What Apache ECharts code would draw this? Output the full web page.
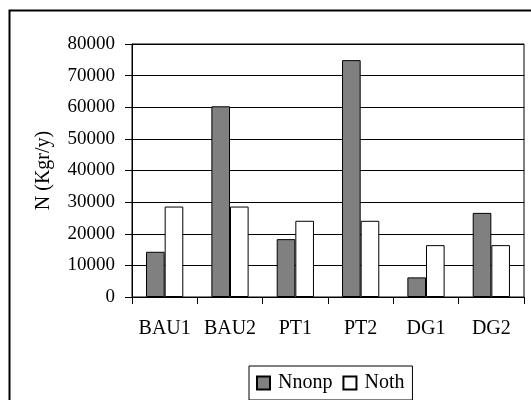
<!DOCTYPE html>
<html>
<head>
<meta charset="utf-8">
<script src="https://cdn.jsdelivr.net/npm/echarts@6/dist/echarts.min.js"></script>
<style>
  html, body { margin: 0; padding: 0; background: #fff; }
  #chart { width: 531px; height: 400px; }
</style>
</head>
<body>
<div id="chart"></div>
<script>
// Scenarios on the category axis
const scenarios = ['BAU1', 'BAU2', 'PT1', 'PT2', 'DG1', 'DG2'];
// Nitrogen loads, Kgr per year
const nnonp = [14300, 60300, 18300, 74900, 6200, 26600];
const noth = [28600, 28600, 24100, 24100, 16400, 16400];
// Value axis range
const yMin = 0;
const yMax = 80000;
const yStep = 10000;

const serif = '"Liberation Serif", "Times New Roman", serif';

const chart = echarts.init(document.getElementById('chart'), null, { renderer: 'canvas' });

chart.setOption({
  animation: false,
  backgroundColor: '#fff',
  textStyle: { fontFamily: serif, color: '#000' },
  graphic: [{
    type: 'rect',
    shape: { x: 9.5, y: 10.5, width: 540, height: 420 },
    style: { fill: null, stroke: '#000', lineWidth: 2 },
    silent: true
  }],
  grid: {
    left: 132, top: 44, width: 392, height: 253,
    show: true, borderColor: '#000', borderWidth: 1, backgroundColor: 'transparent'
  },
  legend: {
    left: 249, top: 366,
    padding: [7, 8, 7, 7],
    borderColor: '#000', borderWidth: 1,
    itemWidth: 13, itemHeight: 13, itemGap: 10,
    icon: 'rect',
    textStyle: { fontFamily: serif, fontSize: 20, color: '#000', padding: [0, 0, 0, 3] },
    data: ['Nnonp', 'Noth']
  },
  xAxis: {
    type: 'category',
    data: scenarios,
    axisLine: { lineStyle: { color: '#000', width: 1 } },
    axisTick: { show: true, length: 7, lineStyle: { color: '#000' } },
    axisLabel: { fontFamily: serif, fontSize: 20, color: '#000', margin: 22, interval: 0 }
  },
  yAxis: {
    type: 'value',
    min: yMin, max: yMax, interval: yStep,
    name: 'N (Kgr/y)',
    nameLocation: 'middle',
    nameGap: 78,
    nameTextStyle: { fontFamily: serif, fontSize: 20, color: '#000' },
    axisLine: { show: true, lineStyle: { color: '#000', width: 1 } },
    axisTick: { show: true, length: 7, lineStyle: { color: '#000' } },
    axisLabel: {
      fontFamily: serif, fontSize: 19, color: '#000', margin: 17,
      formatter: v => String(v)
    },
    splitLine: { show: true, lineStyle: { color: '#000', width: 1 } }
  },
  series: [
    {
      name: 'Nnonp', type: 'bar', data: nnonp,
      barGap: '0%', barCategoryGap: '43%',
      itemStyle: { color: '#808080', borderColor: '#000', borderWidth: 1 }
    },
    {
      name: 'Noth', type: 'bar', data: noth,
      barGap: '0%', barCategoryGap: '43%',
      itemStyle: { color: '#fff', borderColor: '#000', borderWidth: 1 }
    }
  ]
});
</script>
</body>
</html>
